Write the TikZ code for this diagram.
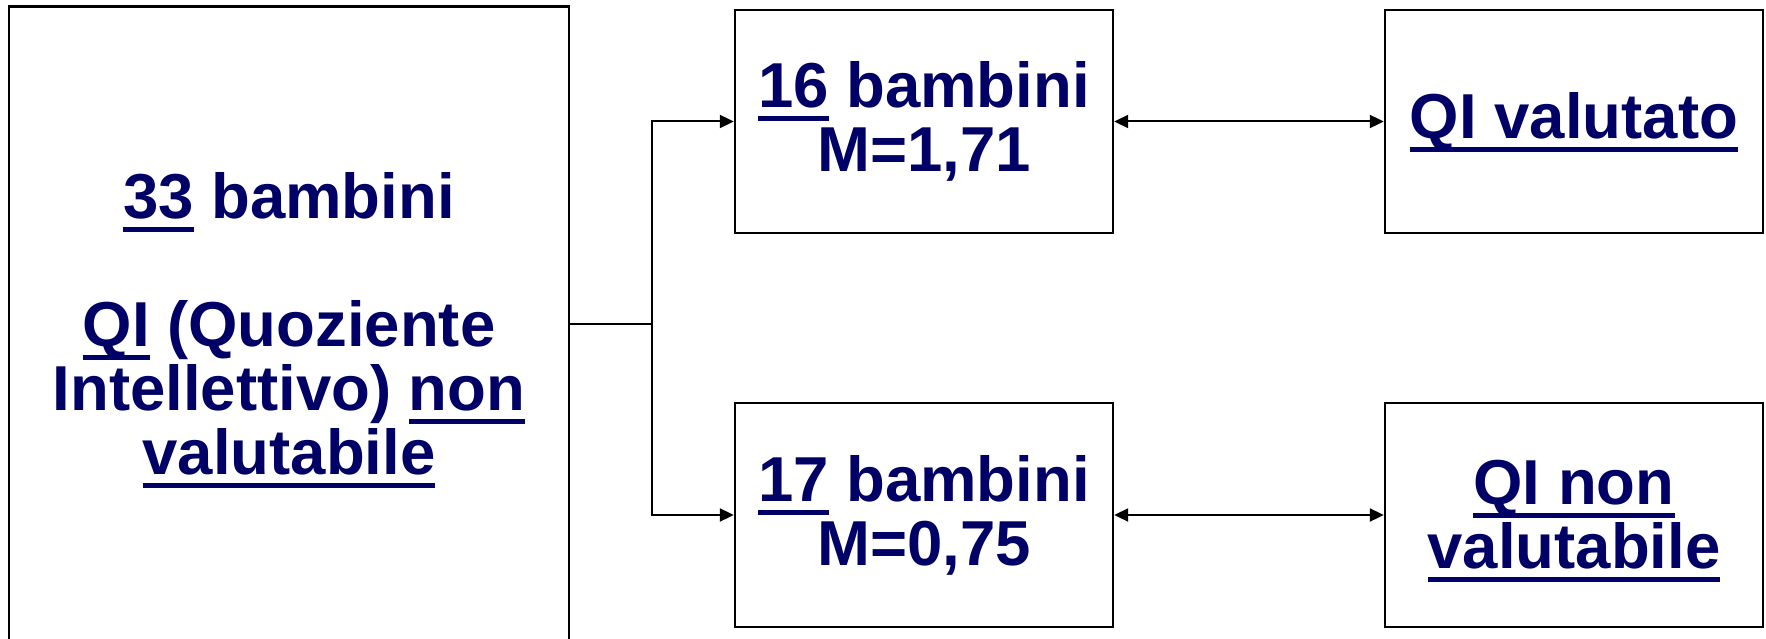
\documentclass[tikz,border=0pt]{standalone}
\usepackage{fontspec}
\setmainfont{Liberation Sans}
\usetikzlibrary{arrows.meta}
\definecolor{navy}{RGB}{0,0,102}
\newcommand\ulx[1]{\setbox0=\hbox{#1}\rlap{\smash{\rule[-13.5pt]{\wd0}{5pt}}}\box0\relax}
\tikzset{
  boxnode/.style={draw=black, line width=2.4pt, fill=white, inner sep=0pt,
    align=center, text=navy, font=\fontsize{63.5}{64}\selectfont\bfseries},
  conn/.style={draw=black, line width=2pt},
  tip/.style={-{Triangle[length=14pt,width=13pt]}},
  dtip/.style={{Triangle[length=14pt,width=13pt]}-{Triangle[length=14pt,width=13pt]}}
}
\begin{document}
\begin{tikzpicture}[x=1pt,y=-1pt]
\useasboundingbox[fill=white] (0,0) rectangle (1766,639);
\node[boxnode, minimum width=560pt, minimum height=635.5pt] (left) at (289,324.25)
  {\ulx{33} bambini\\[64pt]\ulx{QI} (Quoziente\\Intellettivo) \ulx{non}\\\ulx{valutabile}};
\node[boxnode, minimum width=378pt, minimum height=223pt] (b16) at (924,121.5)
  {\ulx{16} bambini\\M=1,71};
\node[boxnode, minimum width=378pt, minimum height=224pt] (b17) at (924,515)
  {\ulx{17} bambini\\M=0,75};
\node[boxnode, minimum width=378pt, minimum height=223pt] (qv) at (1574,121.5)
  {\ulx{QI valutato}};
\node[boxnode, minimum width=378pt, minimum height=224pt] (qn) at (1574,515)
  {\ulx{QI non}\\\ulx{valutabile}};
\coordinate (j) at (652,324.25);
\draw[conn] (left.east) -- (j);
\draw[conn, tip] (j) |- (b16);
\draw[conn, tip] (j) |- (b17);
\draw[conn, dtip] (b16) -- (qv);
\draw[conn, dtip] (b17) -- (qn);
\end{tikzpicture}
\end{document}
